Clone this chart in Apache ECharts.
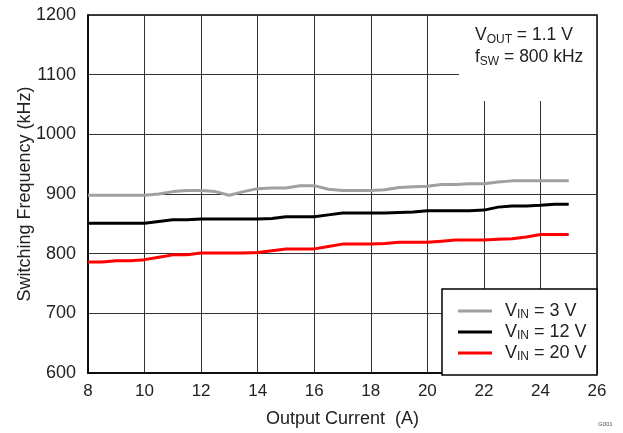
<!DOCTYPE html>
<html>
<head>
<meta charset="utf-8">
<script src="https://cdn.jsdelivr.net/npm/echarts@6/dist/echarts.min.js"></script>
<style>
  html, body { margin: 0; padding: 0; background: #fff; }
  #chart { width: 623px; height: 433px; }
</style>
</head>
<body>
<div id="chart"></div>
<script>
// Output current (A)
const current = [8, 8.5, 9, 9.5, 10, 10.5, 11, 11.5, 12, 12.5, 13, 13.5, 14, 14.5, 15, 15.5, 16, 16.5,
  17, 17.5, 18, 18.5, 19, 19.5, 20, 20.5, 21, 21.5, 22, 22.5, 23, 23.5, 24, 24.5, 25];

// Switching frequency (kHz) for each input voltage
const fsw3V = [898, 898, 898, 898, 898, 900, 904, 906, 906, 904, 898, 904, 909, 910, 910, 914, 914, 908,
  906, 906, 906, 907, 911, 912, 913, 916, 916, 917, 917, 920, 922, 922, 922, 922, 922];
const fsw12V = [851, 851, 851, 851, 851, 854, 857, 857, 858, 858, 858, 858, 858, 859, 862, 862, 862, 865,
  868, 868, 868, 868, 869, 870, 872, 872, 872, 872, 873, 878, 880, 880, 881, 883, 883];
const fsw20V = [786, 786, 788, 788, 790, 794, 798, 798, 801, 801, 801, 801, 802, 805, 808, 808, 808, 812,
  816, 816, 816, 817, 819, 819, 819, 821, 823, 823, 823, 824, 825, 828, 832, 832, 832];

const seriesNames = ['3 V', '12 V', '20 V'];
const seriesColors = ['#a0a0a0', '#000000', '#ff0000'];
const seriesValues = [fsw3V, fsw12V, fsw20V];

const xTicks = { min: 8, max: 26, step: 2 };
const yTicks = { min: 600, max: 1200, step: 100 };

const font = 'Liberation Sans, Arial, sans-serif';
const textColor = '#222';
const fs = 18;

const chart = echarts.init(document.getElementById('chart'), null, { renderer: 'canvas' });

const series = seriesNames.map((name, i) => ({
  name: name,
  type: 'line',
  showSymbol: false,
  symbol: 'none',
  color: seriesColors[i],
  lineStyle: { width: 3, color: seriesColors[i] },
  data: current.map((c, k) => [c, seriesValues[i][k]]),
  z: 2
}));

chart.setOption({
  animation: false,
  backgroundColor: '#fff',
  grid: {
    left: 88, top: 15, width: 509, height: 360,
    show: true, borderColor: '#000', borderWidth: 1.5, backgroundColor: '#fff'
  },
  xAxis: {
    type: 'value',
    min: xTicks.min, max: xTicks.max, interval: xTicks.step,
    name: 'Output Current  (A)',
    nameLocation: 'middle',
    nameGap: 37,
    nameMoveOverlap: false,
    nameTextStyle: { fontSize: fs, fontFamily: font, color: textColor },
    axisLine: { show: true, lineStyle: { color: '#000', width: 1.5 } },
    axisTick: { show: false },
    axisLabel: { fontSize: 17, fontFamily: font, color: textColor, margin: 10 },
    splitLine: { show: true, lineStyle: { color: '#333', width: 1 } }
  },
  yAxis: {
    type: 'value',
    min: yTicks.min, max: yTicks.max, interval: yTicks.step,
    name: 'Switching Frequency (kHz)',
    nameLocation: 'middle',
    nameGap: 54,
    nameMoveOverlap: false,
    nameTextStyle: { fontSize: fs, fontFamily: font, color: textColor },
    axisLine: { show: true, lineStyle: { color: '#000', width: 1.5 } },
    axisTick: { show: false },
    axisLabel: { fontSize: fs, fontFamily: font, color: textColor, margin: 12, formatter: v => String(v) },
    splitLine: { show: true, lineStyle: { color: '#333', width: 1 } }
  },
  legend: {
    orient: 'vertical',
    left: 453, top: 297,
    itemWidth: 34, itemHeight: 3,
    itemGap: 2,
    icon: 'rect',
    data: seriesNames,
    formatter: name => '{v|V}{s|IN}{v| = ' + name + '}',
    textStyle: {
      padding: [0, 0, 0, 8],
      rich: {
        v: { fontSize: fs, fontFamily: font, color: textColor, lineHeight: 20 },
        s: { fontSize: 12, fontFamily: font, color: textColor, lineHeight: 20, verticalAlign: 'bottom', padding: [7, 0, 0, 0] }
      }
    },
    z: 6
  },
  graphic: [
    {
      // white panel behind the operating-condition note
      type: 'rect', z: 3,
      shape: { x: 459, y: 16, width: 137, height: 85 },
      style: { fill: '#fff' }
    },
    {
      // legend frame
      type: 'rect', z: 3,
      shape: { x: 442, y: 289, width: 155, height: 86 },
      style: { fill: '#fff', stroke: '#000', lineWidth: 1.5 }
    },
    {
      type: 'text', z: 5, left: 475, top: 26,
      style: {
        text: '{v|V}{s|OUT}{v| = 1.1 V}\n{v|f}{s|SW}{v| = 800 kHz}',
        rich: {
          v: { fontSize: 17.5, fontFamily: font, fill: textColor, lineHeight: 22 },
          s: { fontSize: 12, fontFamily: font, fill: textColor, lineHeight: 22, verticalAlign: 'bottom', padding: [7, 0, 0, 0] }
        }
      }
    },
    {
      type: 'text', z: 5, left: 598, top: 421,
      style: { text: 'G001', fontSize: 6, fontFamily: font, fill: '#555' }
    }
  ],
  series: series
});
</script>
</body>
</html>
